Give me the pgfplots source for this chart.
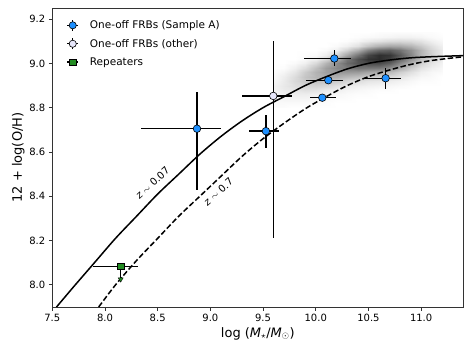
\documentclass[border=0pt]{standalone}
\usepackage{pgfplots}
\pgfplotsset{compat=1.18}
\usepackage{fontspec}
\setmainfont{DejaVu Sans}
\definecolor{fblue}{RGB}{30,144,255}
\definecolor{fwhite}{RGB}{230,230,250}
\definecolor{fgreen}{RGB}{34,139,34}
\pgfplotsset{
  errb/.style={only marks, forget plot,
    error bars/x dir=both, error bars/x explicit,
    error bars/y dir=both, error bars/y explicit,
    error bars/error mark=none,
    error bars/error bar style={black, line width=1.4pt}},
}
\begin{document}
\begin{tikzpicture}
\useasboundingbox (-52.3pt,-49pt) rectangle (421.7pt,307pt);
\begin{axis}[
  at={(0,0)}, anchor=south west,
  scale only axis, width=411pt, height=299pt,
  xmin=7.5, xmax=11.4, ymin=7.9, ymax=9.25,
  xtick={7.5,8,8.5,9,9.5,10,10.5,11},
  ytick={8,8.2,8.4,8.6,8.8,9,9.2},
  tick pos=left, tick align=outside,
  major tick length=3.5pt,
  axis line style={black!80, line width=0.8pt},
  tick style={black!80, line width=0.8pt},
  /pgf/number format/assume math mode=true,
  tick label style={font=\fontsize{10}{12}\selectfont,
    /pgf/number format/fixed, /pgf/number format/fixed zerofill,
    /pgf/number format/precision=1},
  label style={font=\fontsize{13}{15}\selectfont},
  xlabel={log (\textit{M}\textsubscript{$\star$}/\textit{M}\textsubscript{$\odot$})},
  xlabel style={at={(axis description cs:0.5,-0.089)}, anchor=center},
  ylabel={12 + log(O/H)},
  ylabel style={at={(axis description cs:-0.083,0.5)}, anchor=center},
  colormap={gw}{color=(white) color=(black)},
  point meta min=0, point meta max=1,
  legend cell align=left,
  legend style={at={(0.027,0.972)}, anchor=north west, draw=none, fill=none,
    column sep=9pt, row sep=5pt,
    font=\fontsize{10.5}{12.5}\selectfont},
]
% galaxy density background
\addplot[surf, shader=interp, mesh/cols=17, point meta=explicit, forget plot]
  table[row sep=\\, meta=c] {
x y c\\
9.6 8.80 .01\\ 9.7 8.80 .01\\ 9.8 8.80 0\\ 9.9 8.80 0\\ 10.0 8.80 0\\ 10.1 8.80 0\\ 10.2 8.80 0\\ 10.3 8.80 0\\ 10.4 8.80 0\\ 10.5 8.80 0\\ 10.6 8.80 0\\ 10.7 8.80 0\\ 10.8 8.80 0\\ 10.9 8.80 0\\ 11.0 8.80 0\\ 11.1 8.80 0\\ 11.2 8.80 0\\
9.6 8.82 .02\\ 9.7 8.82 .02\\ 9.8 8.82 .02\\ 9.9 8.82 .02\\ 10.0 8.82 .01\\ 10.1 8.82 .01\\ 10.2 8.82 0\\ 10.3 8.82 0\\ 10.4 8.82 0\\ 10.5 8.82 0\\ 10.6 8.82 0\\ 10.7 8.82 0\\ 10.8 8.82 0\\ 10.9 8.82 0\\ 11.0 8.82 0\\ 11.1 8.82 0\\ 11.2 8.82 0\\
9.6 8.84 .03\\ 9.7 8.84 .04\\ 9.8 8.84 .04\\ 9.9 8.84 .04\\ 10.0 8.84 .03\\ 10.1 8.84 .02\\ 10.2 8.84 .01\\ 10.3 8.84 .01\\ 10.4 8.84 0\\ 10.5 8.84 0\\ 10.6 8.84 0\\ 10.7 8.84 0\\ 10.8 8.84 0\\ 10.9 8.84 0\\ 11.0 8.84 0\\ 11.1 8.84 0\\ 11.2 8.84 0\\
9.6 8.86 .04\\ 9.7 8.86 .06\\ 9.8 8.86 .07\\ 9.9 8.86 .07\\ 10.0 8.86 .06\\ 10.1 8.86 .04\\ 10.2 8.86 .03\\ 10.3 8.86 .02\\ 10.4 8.86 .01\\ 10.5 8.86 .01\\ 10.6 8.86 0\\ 10.7 8.86 0\\ 10.8 8.86 0\\ 10.9 8.86 0\\ 11.0 8.86 0\\ 11.1 8.86 0\\ 11.2 8.86 0\\
9.6 8.88 .05\\ 9.7 8.88 .08\\ 9.8 8.88 .10\\ 9.9 8.88 .12\\ 10.0 8.88 .11\\ 10.1 8.88 .08\\ 10.2 8.88 .06\\ 10.3 8.88 .04\\ 10.4 8.88 .03\\ 10.5 8.88 .02\\ 10.6 8.88 .01\\ 10.7 8.88 .01\\ 10.8 8.88 0\\ 10.9 8.88 0\\ 11.0 8.88 0\\ 11.1 8.88 0\\ 11.2 8.88 0\\
9.6 8.90 .05\\ 9.7 8.90 .09\\ 9.8 8.90 .13\\ 9.9 8.90 .16\\ 10.0 8.90 .17\\ 10.1 8.90 .15\\ 10.2 8.90 .11\\ 10.3 8.90 .08\\ 10.4 8.90 .06\\ 10.5 8.90 .05\\ 10.6 8.90 .04\\ 10.7 8.90 .03\\ 10.8 8.90 .02\\ 10.9 8.90 .01\\ 11.0 8.90 0\\ 11.1 8.90 0\\ 11.2 8.90 0\\
9.6 8.92 .03\\ 9.7 8.92 .08\\ 9.8 8.92 .15\\ 9.9 8.92 .21\\ 10.0 8.92 .24\\ 10.1 8.92 .23\\ 10.2 8.92 .20\\ 10.3 8.92 .16\\ 10.4 8.92 .13\\ 10.5 8.92 .10\\ 10.6 8.92 .09\\ 10.7 8.92 .07\\ 10.8 8.92 .05\\ 10.9 8.92 .03\\ 11.0 8.92 .01\\ 11.1 8.92 .01\\ 11.2 8.92 0\\
9.6 8.94 .02\\ 9.7 8.94 .07\\ 9.8 8.94 .14\\ 9.9 8.94 .23\\ 10.0 8.94 .29\\ 10.1 8.94 .32\\ 10.2 8.94 .31\\ 10.3 8.94 .27\\ 10.4 8.94 .24\\ 10.5 8.94 .20\\ 10.6 8.94 .18\\ 10.7 8.94 .14\\ 10.8 8.94 .10\\ 10.9 8.94 .06\\ 11.0 8.94 .03\\ 11.1 8.94 .02\\ 11.2 8.94 0\\
9.6 8.96 .01\\ 9.7 8.96 .04\\ 9.8 8.96 .10\\ 9.9 8.96 .20\\ 10.0 8.96 .30\\ 10.1 8.96 .37\\ 10.2 8.96 .41\\ 10.3 8.96 .40\\ 10.4 8.96 .39\\ 10.5 8.96 .35\\ 10.6 8.96 .33\\ 10.7 8.96 .27\\ 10.8 8.96 .19\\ 10.9 8.96 .12\\ 11.0 8.96 .06\\ 11.1 8.96 .03\\ 11.2 8.96 .02\\
9.6 8.98 0\\ 9.7 8.98 .01\\ 9.8 8.98 .06\\ 9.9 8.98 .13\\ 10.0 8.98 .25\\ 10.1 8.98 .38\\ 10.2 8.98 .47\\ 10.3 8.98 .52\\ 10.4 8.98 .55\\ 10.5 8.98 .53\\ 10.6 8.98 .52\\ 10.7 8.98 .44\\ 10.8 8.98 .32\\ 10.9 8.98 .20\\ 11.0 8.98 .11\\ 11.1 8.98 .06\\ 11.2 8.98 .03\\
9.6 9.00 0\\ 9.7 9.00 0\\ 9.8 9.00 .02\\ 9.9 9.00 .06\\ 10.0 9.00 .15\\ 10.1 9.00 .29\\ 10.2 9.00 .45\\ 10.3 9.00 .58\\ 10.4 9.00 .67\\ 10.5 9.00 .71\\ 10.6 9.00 .71\\ 10.7 9.00 .63\\ 10.8 9.00 .47\\ 10.9 9.00 .31\\ 11.0 9.00 .18\\ 11.1 9.00 .10\\ 11.2 9.00 .05\\
9.6 9.02 0\\ 9.7 9.02 0\\ 9.8 9.02 0\\ 9.9 9.02 .02\\ 10.0 9.02 .06\\ 10.1 9.02 .16\\ 10.2 9.02 .33\\ 10.3 9.02 .53\\ 10.4 9.02 .69\\ 10.5 9.02 .80\\ 10.6 9.02 .83\\ 10.7 9.02 .76\\ 10.8 9.02 .60\\ 10.9 9.02 .41\\ 11.0 9.02 .25\\ 11.1 9.02 .14\\ 11.2 9.02 .07\\
9.6 9.04 0\\ 9.7 9.04 0\\ 9.8 9.04 0\\ 9.9 9.04 .01\\ 10.0 9.04 .02\\ 10.1 9.04 .07\\ 10.2 9.04 .17\\ 10.3 9.04 .35\\ 10.4 9.04 .54\\ 10.5 9.04 .73\\ 10.6 9.04 .82\\ 10.7 9.04 .79\\ 10.8 9.04 .65\\ 10.9 9.04 .47\\ 11.0 9.04 .29\\ 11.1 9.04 .17\\ 11.2 9.04 .08\\
9.6 9.06 0\\ 9.7 9.06 0\\ 9.8 9.06 0\\ 9.9 9.06 0\\ 10.0 9.06 0\\ 10.1 9.06 .02\\ 10.2 9.06 .06\\ 10.3 9.06 .17\\ 10.4 9.06 .31\\ 10.5 9.06 .49\\ 10.6 9.06 .59\\ 10.7 9.06 .62\\ 10.8 9.06 .55\\ 10.9 9.06 .43\\ 11.0 9.06 .29\\ 11.1 9.06 .16\\ 11.2 9.06 .08\\
9.6 9.08 0\\ 9.7 9.08 0\\ 9.8 9.08 0\\ 9.9 9.08 0\\ 10.0 9.08 0\\ 10.1 9.08 0\\ 10.2 9.08 .02\\ 10.3 9.08 .06\\ 10.4 9.08 .12\\ 10.5 9.08 .23\\ 10.6 9.08 .31\\ 10.7 9.08 .35\\ 10.8 9.08 .34\\ 10.9 9.08 .29\\ 11.0 9.08 .21\\ 11.1 9.08 .12\\ 11.2 9.08 .06\\
9.6 9.10 0\\ 9.7 9.10 0\\ 9.8 9.10 0\\ 9.9 9.10 0\\ 10.0 9.10 0\\ 10.1 9.10 0\\ 10.2 9.10 0\\ 10.3 9.10 .01\\ 10.4 9.10 .04\\ 10.5 9.10 .08\\ 10.6 9.10 .11\\ 10.7 9.10 .14\\ 10.8 9.10 .15\\ 10.9 9.10 .14\\ 11.0 9.10 .11\\ 11.1 9.10 .06\\ 11.2 9.10 .03\\
9.6 9.12 0\\ 9.7 9.12 0\\ 9.8 9.12 0\\ 9.9 9.12 0\\ 10.0 9.12 0\\ 10.1 9.12 0\\ 10.2 9.12 0\\ 10.3 9.12 0\\ 10.4 9.12 .01\\ 10.5 9.12 .02\\ 10.6 9.12 .03\\ 10.7 9.12 .04\\ 10.8 9.12 .05\\ 10.9 9.12 .05\\ 11.0 9.12 .04\\ 11.1 9.12 .02\\ 11.2 9.12 .01\\
9.6 9.14 0\\ 9.7 9.14 0\\ 9.8 9.14 0\\ 9.9 9.14 0\\ 10.0 9.14 0\\ 10.1 9.14 0\\ 10.2 9.14 0\\ 10.3 9.14 0\\ 10.4 9.14 0\\ 10.5 9.14 0\\ 10.6 9.14 .01\\ 10.7 9.14 .01\\ 10.8 9.14 .01\\ 10.9 9.14 .01\\ 11.0 9.14 .01\\ 11.1 9.14 .01\\ 11.2 9.14 0\\
};

% mass-metallicity relations
\addplot[black, line width=1.5pt, smooth, forget plot] coordinates {
(7.54,7.90) (7.70,7.99) (7.90,8.10) (8.10,8.21) (8.30,8.31) (8.50,8.41)
(8.70,8.50) (8.90,8.59) (9.10,8.67) (9.30,8.74) (9.50,8.80) (9.70,8.85)
(9.90,8.90) (10.10,8.94) (10.30,8.975) (10.50,9.00) (10.70,9.015)
(10.90,9.025) (11.10,9.03) (11.40,9.035)
};
\addplot[black, line width=1.5pt, smooth, dash pattern=on 5.5pt off 2.5pt, forget plot] coordinates {
(7.94,7.90) (8.10,8.00) (8.30,8.11) (8.50,8.21) (8.70,8.31) (8.90,8.40)
(9.10,8.49) (9.30,8.58) (9.50,8.66) (9.70,8.73) (9.90,8.795) (10.10,8.85)
(10.30,8.90) (10.50,8.94) (10.70,8.97) (10.90,8.995) (11.10,9.013) (11.40,9.03)
};
\node[rotate=43, font=\fontsize{10}{12}\selectfont] at (axis cs:8.45,8.46) {\textit{z} $\sim$ 0.07};
\node[rotate=42, font=\fontsize{10}{12}\selectfont] at (axis cs:9.075,8.42) {\textit{z} $\sim$ 0.7};

% one-off FRBs (other)
\addplot[errb, mark=*, mark size=3.8pt, mark options={fill=fwhite, draw=black, line width=0.6pt}] coordinates {
(9.597,8.853) += (0.173,0.247) -= (0.300,0.643)
};
% one-off FRBs (Sample A)
\addplot[errb, mark=*, mark size=3.8pt, mark options={fill=fblue, draw=black, line width=0.6pt}] coordinates {
(8.873,8.705) += (0.227,0.166) -= (0.533,0.275)
(9.527,8.694) += (0.123,0.071) -= (0.157,0.074)
(10.176,9.022) += (0.158,0.038) -= (0.288,0.036)
(10.119,8.924) += (0.136,0.012) -= (0.212,0.012)
(10.062,8.845) += (0.128,0.008) -= (0.117,0.008)
(10.663,8.933) += (0.145,0.044) -= (0.218,0.050)
};
% repeater: upper limit
\addplot[black, line width=1.4pt, forget plot] coordinates {(8.149,8.083) (8.149,8.03)};
\addplot[only marks, forget plot, mark=triangle*, mark size=2.8pt,
  mark options={rotate=180, fill=fgreen, draw=black, line width=0.4pt}] coordinates {(8.149,8.025)};
\addplot[errb, mark=square*, mark size=3.2pt, mark options={fill=fgreen, draw=black, line width=0.6pt}] coordinates {
(8.149,8.083) += (0.167,0) -= (0.260,0)
};

\addlegendimage{legend image code/.code={
  \draw[black, line width=1.3pt] (0.3cm-5.5pt,0) -- (0.3cm+5.5pt,0) (0.3cm,-5.5pt) -- (0.3cm,5.5pt);
  \draw[fill=fblue, draw=black, line width=0.6pt] (0.3cm,0) circle (3.6pt);}}
\addlegendentry{One-off FRBs (Sample A)}
\addlegendimage{legend image code/.code={
  \draw[black, line width=1.3pt] (0.3cm-5.5pt,0) -- (0.3cm+5.5pt,0) (0.3cm,-5.5pt) -- (0.3cm,5.5pt);
  \draw[fill=fwhite, draw=black, line width=0.6pt] (0.3cm,0) circle (3.6pt);}}
\addlegendentry{One-off FRBs (other)}
\addlegendimage{legend image code/.code={
  \draw[black, line width=1.3pt] (0.3cm-5.5pt,0) -- (0.3cm+5.5pt,0);
  \draw[fill=fgreen, draw=black, line width=0.6pt] (0.3cm-3.2pt,-3.2pt) rectangle (0.3cm+3.2pt,3.2pt);}}
\addlegendentry{Repeaters}
\end{axis}
\end{tikzpicture}
\end{document}
